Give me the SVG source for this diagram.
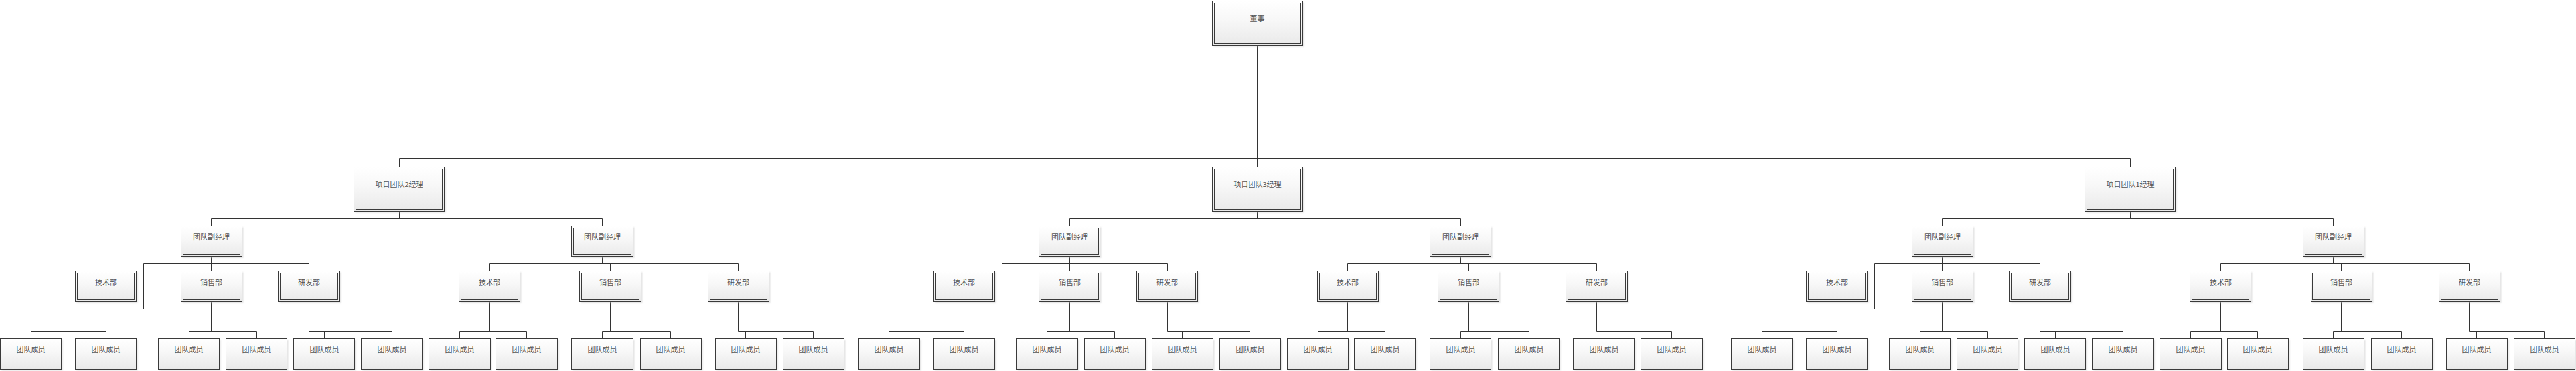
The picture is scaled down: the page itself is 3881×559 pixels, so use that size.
<svg xmlns="http://www.w3.org/2000/svg" width="3881" height="559" viewBox="0 0 3881 559">
<defs>
<linearGradient id="gr" x1="0" y1="0" x2="0" y2="1"><stop offset="0" stop-color="#ffffff"/><stop offset="0.4" stop-color="#f8f8f8"/><stop offset="1" stop-color="#e9e9e9"/></linearGradient>
<filter id="blur" x="-10%" y="-10%" width="130%" height="140%"><feGaussianBlur stdDeviation="1"/></filter>
</defs>
<style>
.s{fill:#c4c4c4;opacity:.5;filter:url(#blur)}
.o{fill:url(#gr);stroke:#3a3a3a;stroke-width:1}
.i{fill:none;stroke:#3a3a3a;stroke-width:1}
.t{font-family:"Noto Sans CJK SC","Noto Sans",sans-serif;font-size:11px;fill:#555;text-anchor:middle}
.c{fill:none;stroke:#333;stroke-width:1}
</style>
<rect width="3881" height="559" fill="#fff"/>
<g id="connectors">
<path class="c" d="M1894.5 68.5V251.5M601.5 238.5H3209.5M601.5 238.5V251.5M3209.5 238.5V251.5"/>
<g id="conn-left"><path id="team-conn" class="c" d="M601.5 318.5V329.5M318.5 329.5H907.5M318.5 329.5V340.5M907.5 329.5V340.5M318.5 386.5V408.5M216.5 397.5H465.5M465.5 397.5V408.5M216.5 397.5V465.5H159.5M159.5 454.5V499.5M46.5 499.5H159.5M46.5 499.5V510.5M159.5 499.5V510.5M318.5 454.5V499.5M284.5 499.5H386.5M284.5 499.5V510.5M386.5 499.5V510.5M465.5 454.5V499.5H590.5M488.5 499.5V510.5M590.5 499.5V510.5M907.5 386.5V397.5M737.5 397.5H1112.5M737.5 397.5V408.5M919.5 397.5V408.5M1112.5 397.5V408.5M737.5 454.5V499.5M692.5 499.5H793.5M692.5 499.5V510.5M793.5 499.5V510.5M919.5 454.5V499.5M907.5 499.5H1010.5M907.5 499.5V510.5M1010.5 499.5V510.5M1112.5 454.5V499.5H1225.5M1123.5 499.5V510.5M1225.5 499.5V510.5"/></g>
<g id="conn-mid" transform="translate(1293,0)"><use href="#team-conn"/></g>
<g id="conn-right" transform="translate(2608,0)"><use href="#team-conn"/></g>
</g>
<g id="director"><rect class="s" x="1828.5" y="3.5" width="136" height="67"/><rect class="o" x="1826.5" y="1.5" width="136" height="67"/><rect class="i" x="1829.5" y="4.5" width="130" height="61"/><text class="t" x="1894.5" y="31.5">董事</text></g>
<g id="team-left">
<g id="mgrL"><rect class="s" x="535.5" y="253.5" width="136" height="67"/><rect class="o" x="533.5" y="251.5" width="136" height="67"/><rect class="i" x="536.5" y="254.5" width="130" height="61"/><text class="t" x="601.5" y="281.5">项目团队2经理</text></g>
<g id="depL1"><rect class="s" x="274.5" y="342.5" width="92" height="46"/><rect class="o" x="272.5" y="340.5" width="92" height="46"/><rect class="i" x="275.5" y="343.5" width="86" height="40"/><text class="t" x="318.5" y="360.5">团队副经理</text></g>
<g id="depL2"><rect class="s" x="863.5" y="342.5" width="92" height="46"/><rect class="o" x="861.5" y="340.5" width="92" height="46"/><rect class="i" x="864.5" y="343.5" width="86" height="40"/><text class="t" x="907.5" y="360.5">团队副经理</text></g>
<g id="techL1"><rect class="s" x="115.5" y="410.5" width="92" height="46"/><rect class="o" x="113.5" y="408.5" width="92" height="46"/><rect class="i" x="116.5" y="411.5" width="86" height="40"/><text class="t" x="159.5" y="429.5">技术部</text></g>
<g id="salesL1"><rect class="s" x="274.5" y="410.5" width="92" height="46"/><rect class="o" x="272.5" y="408.5" width="92" height="46"/><rect class="i" x="275.5" y="411.5" width="86" height="40"/><text class="t" x="318.5" y="429.5">销售部</text></g>
<g id="rdL1"><rect class="s" x="421.5" y="410.5" width="92" height="46"/><rect class="o" x="419.5" y="408.5" width="92" height="46"/><rect class="i" x="422.5" y="411.5" width="86" height="40"/><text class="t" x="465.5" y="429.5">研发部</text></g>
<g id="techL2"><rect class="s" x="693.5" y="410.5" width="92" height="46"/><rect class="o" x="691.5" y="408.5" width="92" height="46"/><rect class="i" x="694.5" y="411.5" width="86" height="40"/><text class="t" x="737.5" y="429.5">技术部</text></g>
<g id="salesL2"><rect class="s" x="875.5" y="410.5" width="92" height="46"/><rect class="o" x="873.5" y="408.5" width="92" height="46"/><rect class="i" x="876.5" y="411.5" width="86" height="40"/><text class="t" x="919.5" y="429.5">销售部</text></g>
<g id="rdL2"><rect class="s" x="1068.5" y="410.5" width="92" height="46"/><rect class="o" x="1066.5" y="408.5" width="92" height="46"/><rect class="i" x="1069.5" y="411.5" width="86" height="40"/><text class="t" x="1112.5" y="429.5">研发部</text></g>
<g id="memL01"><rect class="s" x="2.5" y="512.5" width="92" height="46"/><rect class="o" x="0.5" y="510.5" width="92" height="46"/><text class="t" x="46.5" y="530.5">团队成员</text></g>
<g id="memL02"><rect class="s" x="115.5" y="512.5" width="92" height="46"/><rect class="o" x="113.5" y="510.5" width="92" height="46"/><text class="t" x="159.5" y="530.5">团队成员</text></g>
<g id="memL03"><rect class="s" x="240.5" y="512.5" width="92" height="46"/><rect class="o" x="238.5" y="510.5" width="92" height="46"/><text class="t" x="284.5" y="530.5">团队成员</text></g>
<g id="memL04"><rect class="s" x="342.5" y="512.5" width="92" height="46"/><rect class="o" x="340.5" y="510.5" width="92" height="46"/><text class="t" x="386.5" y="530.5">团队成员</text></g>
<g id="memL05"><rect class="s" x="444.5" y="512.5" width="92" height="46"/><rect class="o" x="442.5" y="510.5" width="92" height="46"/><text class="t" x="488.5" y="530.5">团队成员</text></g>
<g id="memL06"><rect class="s" x="546.5" y="512.5" width="92" height="46"/><rect class="o" x="544.5" y="510.5" width="92" height="46"/><text class="t" x="590.5" y="530.5">团队成员</text></g>
<g id="memL07"><rect class="s" x="648.5" y="512.5" width="92" height="46"/><rect class="o" x="646.5" y="510.5" width="92" height="46"/><text class="t" x="692.5" y="530.5">团队成员</text></g>
<g id="memL08"><rect class="s" x="749.5" y="512.5" width="92" height="46"/><rect class="o" x="747.5" y="510.5" width="92" height="46"/><text class="t" x="793.5" y="530.5">团队成员</text></g>
<g id="memL09"><rect class="s" x="863.5" y="512.5" width="92" height="46"/><rect class="o" x="861.5" y="510.5" width="92" height="46"/><text class="t" x="907.5" y="530.5">团队成员</text></g>
<g id="memL10"><rect class="s" x="966.5" y="512.5" width="92" height="46"/><rect class="o" x="964.5" y="510.5" width="92" height="46"/><text class="t" x="1010.5" y="530.5">团队成员</text></g>
<g id="memL11"><rect class="s" x="1079.5" y="512.5" width="92" height="46"/><rect class="o" x="1077.5" y="510.5" width="92" height="46"/><text class="t" x="1123.5" y="530.5">团队成员</text></g>
<g id="memL12"><rect class="s" x="1181.5" y="512.5" width="92" height="46"/><rect class="o" x="1179.5" y="510.5" width="92" height="46"/><text class="t" x="1225.5" y="530.5">团队成员</text></g>
</g>
<g id="team-mid" transform="translate(1293,0)">
<g id="mgrM"><rect class="s" x="535.5" y="253.5" width="136" height="67"/><rect class="o" x="533.5" y="251.5" width="136" height="67"/><rect class="i" x="536.5" y="254.5" width="130" height="61"/><text class="t" x="601.5" y="281.5">项目团队3经理</text></g>
<g id="depM1"><rect class="s" x="274.5" y="342.5" width="92" height="46"/><rect class="o" x="272.5" y="340.5" width="92" height="46"/><rect class="i" x="275.5" y="343.5" width="86" height="40"/><text class="t" x="318.5" y="360.5">团队副经理</text></g>
<g id="depM2"><rect class="s" x="863.5" y="342.5" width="92" height="46"/><rect class="o" x="861.5" y="340.5" width="92" height="46"/><rect class="i" x="864.5" y="343.5" width="86" height="40"/><text class="t" x="907.5" y="360.5">团队副经理</text></g>
<g id="techM1"><rect class="s" x="115.5" y="410.5" width="92" height="46"/><rect class="o" x="113.5" y="408.5" width="92" height="46"/><rect class="i" x="116.5" y="411.5" width="86" height="40"/><text class="t" x="159.5" y="429.5">技术部</text></g>
<g id="salesM1"><rect class="s" x="274.5" y="410.5" width="92" height="46"/><rect class="o" x="272.5" y="408.5" width="92" height="46"/><rect class="i" x="275.5" y="411.5" width="86" height="40"/><text class="t" x="318.5" y="429.5">销售部</text></g>
<g id="rdM1"><rect class="s" x="421.5" y="410.5" width="92" height="46"/><rect class="o" x="419.5" y="408.5" width="92" height="46"/><rect class="i" x="422.5" y="411.5" width="86" height="40"/><text class="t" x="465.5" y="429.5">研发部</text></g>
<g id="techM2"><rect class="s" x="693.5" y="410.5" width="92" height="46"/><rect class="o" x="691.5" y="408.5" width="92" height="46"/><rect class="i" x="694.5" y="411.5" width="86" height="40"/><text class="t" x="737.5" y="429.5">技术部</text></g>
<g id="salesM2"><rect class="s" x="875.5" y="410.5" width="92" height="46"/><rect class="o" x="873.5" y="408.5" width="92" height="46"/><rect class="i" x="876.5" y="411.5" width="86" height="40"/><text class="t" x="919.5" y="429.5">销售部</text></g>
<g id="rdM2"><rect class="s" x="1068.5" y="410.5" width="92" height="46"/><rect class="o" x="1066.5" y="408.5" width="92" height="46"/><rect class="i" x="1069.5" y="411.5" width="86" height="40"/><text class="t" x="1112.5" y="429.5">研发部</text></g>
<g id="memM01"><rect class="s" x="2.5" y="512.5" width="92" height="46"/><rect class="o" x="0.5" y="510.5" width="92" height="46"/><text class="t" x="46.5" y="530.5">团队成员</text></g>
<g id="memM02"><rect class="s" x="115.5" y="512.5" width="92" height="46"/><rect class="o" x="113.5" y="510.5" width="92" height="46"/><text class="t" x="159.5" y="530.5">团队成员</text></g>
<g id="memM03"><rect class="s" x="240.5" y="512.5" width="92" height="46"/><rect class="o" x="238.5" y="510.5" width="92" height="46"/><text class="t" x="284.5" y="530.5">团队成员</text></g>
<g id="memM04"><rect class="s" x="342.5" y="512.5" width="92" height="46"/><rect class="o" x="340.5" y="510.5" width="92" height="46"/><text class="t" x="386.5" y="530.5">团队成员</text></g>
<g id="memM05"><rect class="s" x="444.5" y="512.5" width="92" height="46"/><rect class="o" x="442.5" y="510.5" width="92" height="46"/><text class="t" x="488.5" y="530.5">团队成员</text></g>
<g id="memM06"><rect class="s" x="546.5" y="512.5" width="92" height="46"/><rect class="o" x="544.5" y="510.5" width="92" height="46"/><text class="t" x="590.5" y="530.5">团队成员</text></g>
<g id="memM07"><rect class="s" x="648.5" y="512.5" width="92" height="46"/><rect class="o" x="646.5" y="510.5" width="92" height="46"/><text class="t" x="692.5" y="530.5">团队成员</text></g>
<g id="memM08"><rect class="s" x="749.5" y="512.5" width="92" height="46"/><rect class="o" x="747.5" y="510.5" width="92" height="46"/><text class="t" x="793.5" y="530.5">团队成员</text></g>
<g id="memM09"><rect class="s" x="863.5" y="512.5" width="92" height="46"/><rect class="o" x="861.5" y="510.5" width="92" height="46"/><text class="t" x="907.5" y="530.5">团队成员</text></g>
<g id="memM10"><rect class="s" x="966.5" y="512.5" width="92" height="46"/><rect class="o" x="964.5" y="510.5" width="92" height="46"/><text class="t" x="1010.5" y="530.5">团队成员</text></g>
<g id="memM11"><rect class="s" x="1079.5" y="512.5" width="92" height="46"/><rect class="o" x="1077.5" y="510.5" width="92" height="46"/><text class="t" x="1123.5" y="530.5">团队成员</text></g>
<g id="memM12"><rect class="s" x="1181.5" y="512.5" width="92" height="46"/><rect class="o" x="1179.5" y="510.5" width="92" height="46"/><text class="t" x="1225.5" y="530.5">团队成员</text></g>
</g>
<g id="team-right" transform="translate(2608,0)">
<g id="mgrR"><rect class="s" x="535.5" y="253.5" width="136" height="67"/><rect class="o" x="533.5" y="251.5" width="136" height="67"/><rect class="i" x="536.5" y="254.5" width="130" height="61"/><text class="t" x="601.5" y="281.5">项目团队1经理</text></g>
<g id="depR1"><rect class="s" x="274.5" y="342.5" width="92" height="46"/><rect class="o" x="272.5" y="340.5" width="92" height="46"/><rect class="i" x="275.5" y="343.5" width="86" height="40"/><text class="t" x="318.5" y="360.5">团队副经理</text></g>
<g id="depR2"><rect class="s" x="863.5" y="342.5" width="92" height="46"/><rect class="o" x="861.5" y="340.5" width="92" height="46"/><rect class="i" x="864.5" y="343.5" width="86" height="40"/><text class="t" x="907.5" y="360.5">团队副经理</text></g>
<g id="techR1"><rect class="s" x="115.5" y="410.5" width="92" height="46"/><rect class="o" x="113.5" y="408.5" width="92" height="46"/><rect class="i" x="116.5" y="411.5" width="86" height="40"/><text class="t" x="159.5" y="429.5">技术部</text></g>
<g id="salesR1"><rect class="s" x="274.5" y="410.5" width="92" height="46"/><rect class="o" x="272.5" y="408.5" width="92" height="46"/><rect class="i" x="275.5" y="411.5" width="86" height="40"/><text class="t" x="318.5" y="429.5">销售部</text></g>
<g id="rdR1"><rect class="s" x="421.5" y="410.5" width="92" height="46"/><rect class="o" x="419.5" y="408.5" width="92" height="46"/><rect class="i" x="422.5" y="411.5" width="86" height="40"/><text class="t" x="465.5" y="429.5">研发部</text></g>
<g id="techR2"><rect class="s" x="693.5" y="410.5" width="92" height="46"/><rect class="o" x="691.5" y="408.5" width="92" height="46"/><rect class="i" x="694.5" y="411.5" width="86" height="40"/><text class="t" x="737.5" y="429.5">技术部</text></g>
<g id="salesR2"><rect class="s" x="875.5" y="410.5" width="92" height="46"/><rect class="o" x="873.5" y="408.5" width="92" height="46"/><rect class="i" x="876.5" y="411.5" width="86" height="40"/><text class="t" x="919.5" y="429.5">销售部</text></g>
<g id="rdR2"><rect class="s" x="1068.5" y="410.5" width="92" height="46"/><rect class="o" x="1066.5" y="408.5" width="92" height="46"/><rect class="i" x="1069.5" y="411.5" width="86" height="40"/><text class="t" x="1112.5" y="429.5">研发部</text></g>
<g id="memR01"><rect class="s" x="2.5" y="512.5" width="92" height="46"/><rect class="o" x="0.5" y="510.5" width="92" height="46"/><text class="t" x="46.5" y="530.5">团队成员</text></g>
<g id="memR02"><rect class="s" x="115.5" y="512.5" width="92" height="46"/><rect class="o" x="113.5" y="510.5" width="92" height="46"/><text class="t" x="159.5" y="530.5">团队成员</text></g>
<g id="memR03"><rect class="s" x="240.5" y="512.5" width="92" height="46"/><rect class="o" x="238.5" y="510.5" width="92" height="46"/><text class="t" x="284.5" y="530.5">团队成员</text></g>
<g id="memR04"><rect class="s" x="342.5" y="512.5" width="92" height="46"/><rect class="o" x="340.5" y="510.5" width="92" height="46"/><text class="t" x="386.5" y="530.5">团队成员</text></g>
<g id="memR05"><rect class="s" x="444.5" y="512.5" width="92" height="46"/><rect class="o" x="442.5" y="510.5" width="92" height="46"/><text class="t" x="488.5" y="530.5">团队成员</text></g>
<g id="memR06"><rect class="s" x="546.5" y="512.5" width="92" height="46"/><rect class="o" x="544.5" y="510.5" width="92" height="46"/><text class="t" x="590.5" y="530.5">团队成员</text></g>
<g id="memR07"><rect class="s" x="648.5" y="512.5" width="92" height="46"/><rect class="o" x="646.5" y="510.5" width="92" height="46"/><text class="t" x="692.5" y="530.5">团队成员</text></g>
<g id="memR08"><rect class="s" x="749.5" y="512.5" width="92" height="46"/><rect class="o" x="747.5" y="510.5" width="92" height="46"/><text class="t" x="793.5" y="530.5">团队成员</text></g>
<g id="memR09"><rect class="s" x="863.5" y="512.5" width="92" height="46"/><rect class="o" x="861.5" y="510.5" width="92" height="46"/><text class="t" x="907.5" y="530.5">团队成员</text></g>
<g id="memR10"><rect class="s" x="966.5" y="512.5" width="92" height="46"/><rect class="o" x="964.5" y="510.5" width="92" height="46"/><text class="t" x="1010.5" y="530.5">团队成员</text></g>
<g id="memR11"><rect class="s" x="1079.5" y="512.5" width="92" height="46"/><rect class="o" x="1077.5" y="510.5" width="92" height="46"/><text class="t" x="1123.5" y="530.5">团队成员</text></g>
<g id="memR12"><rect class="s" x="1181.5" y="512.5" width="92" height="46"/><rect class="o" x="1179.5" y="510.5" width="92" height="46"/><text class="t" x="1225.5" y="530.5">团队成员</text></g>
</g>
</svg>
